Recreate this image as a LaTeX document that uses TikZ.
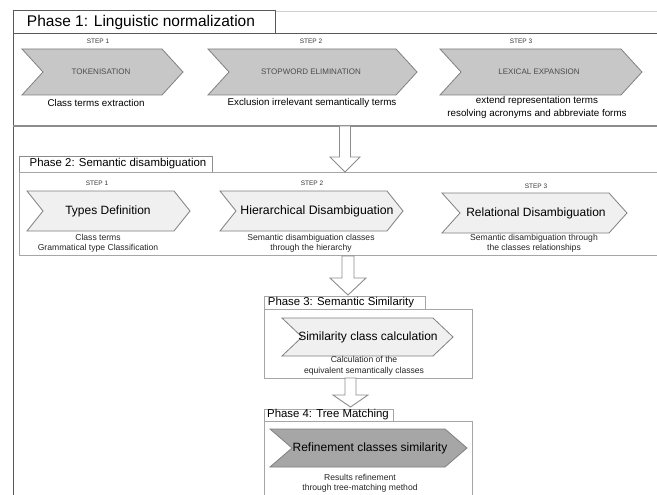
\documentclass[tikz,border=0pt]{standalone}
\usepackage{fontspec}
\setmainfont{Liberation Sans}
\definecolor{frameDark}{gray}{0.35}
\definecolor{frameMid}{gray}{0.55}
\definecolor{frameSoft}{gray}{0.65}
\definecolor{frameLight}{gray}{0.82}
\definecolor{chevGray}{gray}{0.78}
\definecolor{chevPale}{gray}{0.94}
\definecolor{chevDeep}{gray}{0.65}
\definecolor{chevEdge}{gray}{0.5}
% chevron: left, notch depth, right tip, top, bottom, style
\newcommand{\chevronshape}[6]{%
  \path[#6] (#1,#4) -- (#3-#2,#4) -- (#3,{(#4+#5)/2}) -- (#3-#2,#5) -- (#1,#5)
    -- (#1+#2,{(#4+#5)/2}) -- cycle;}
% hollow block arrow: centre x, top, head top, tip, shaft half width, head half width
\newcommand{\blockarrow}[6]{%
  \path[blockarrowstyle] (#1-#5,#2) -- (#1+#5,#2) -- (#1+#5,#3) -- (#1+#6,#3)
    -- (#1,#4) -- (#1-#6,#3) -- (#1-#5,#3) -- cycle;}
\begin{document}
\begin{tikzpicture}[x=1pt,y=-1pt,
  blockarrowstyle/.style={draw=frameMid, fill=white, line width=0.9pt, line join=miter},
  chevOne/.style={draw=chevEdge, fill=chevGray, line width=0.8pt},
  chevTwo/.style={draw=chevEdge, fill=chevPale, line width=0.8pt},
  chevFour/.style={draw=chevEdge, fill=chevDeep, line width=0.8pt},
  stepLabel/.style={font=\fontsize{6.5}{7}\selectfont, text=black!80},
  capsText/.style={font=\fontsize{8}{9}\selectfont, text=black!70},
  bigDesc/.style={font=\fontsize{9.8}{12.5}\selectfont, align=center},
  smallDesc/.style={font=\fontsize{8.6}{10.5}\selectfont, align=center, text=black!85},
  chevLabel/.style={font=\fontsize{12}{14}\selectfont, text=black},
  phaseTitle/.style={font=\fontsize{11.4}{13}\selectfont},
  phaseTitleBig/.style={font=\fontsize{15.5}{17}\selectfont}]
\useasboundingbox (0,0) rectangle (657,495);
\fill[white] (0,0) rectangle (657,495);

% ---------- frames ----------
\draw[frameLight, line width=0.8pt] (275,11) -- (657,11);
\draw[frameDark, line width=0.9pt] (13,10) -- (13,495);
\draw[frameDark, line width=0.8pt] (13,10) rectangle (275,33);
\draw[frameDark, line width=0.8pt] (275,33) -- (657,33);
\draw[frameMid, line width=2pt] (13,126) -- (657,126);

\draw[frameMid, line width=0.8pt] (19,156) rectangle (212,172);
\draw[frameSoft, line width=0.8pt] (212,172) -- (660,172);
\draw[frameSoft, line width=0.8pt] (19,172) rectangle (660,255);

\draw[frameSoft, line width=0.8pt] (264,296) rectangle (425,309);
\draw[frameSoft, line width=0.8pt] (264,309) rectangle (472,378);

\draw[frameSoft, line width=0.8pt] (264,409) rectangle (393,421);
\draw[frameSoft, line width=0.8pt] (264,421) rectangle (472,500);

% ---------- phase titles ----------
\node[phaseTitleBig] (t1) at (141,22) {Phase 1: Linguistic normalization};
\node[phaseTitle] (t2) at (118,164) {Phase 2: Semantic disambiguation};
\node[phaseTitle] (t3) at (341,302.5) {Phase 3: Semantic Similarity};
\node[phaseTitle] (t4) at (328,415) {Phase 4: Tree Matching};

% ---------- phase 1 ----------
\chevronshape{22}{21}{183}{49}{95}{chevOne}
\chevronshape{208}{21}{417}{49}{95}{chevOne}
\chevronshape{440}{21}{642}{49}{95}{chevOne}
\node[stepLabel] (s11) at (98,41) {STEP 1};
\node[stepLabel] (s12) at (311,41) {STEP 2};
\node[stepLabel] (s13) at (521,41) {STEP 3};
\node[capsText] (c11) at (101,72) {TOKENISATION};
\node[capsText] (c12) at (311,72) {STOPWORD ELIMINATION};
\node[capsText] (c13) at (539,72) {LEXICAL EXPANSION};
\node[bigDesc] (d11) at (96,103) {Class terms extraction};
\node[bigDesc] (d12) at (312,103) {Exclusion irrelevant semantically terms};
\node[bigDesc] (d13) at (537,107.5) {extend representation terms\\resolving acronyms and abbreviate forms};

% ---------- phase 2 ----------
\chevronshape{27}{16}{190}{191}{231}{chevTwo}
\chevronshape{220}{16}{403}{191}{231}{chevTwo}
\chevronshape{442}{18}{627}{193}{233}{chevTwo}
\node[stepLabel] (s21) at (97,183) {STEP 1};
\node[stepLabel] (s22) at (312,183) {STEP 2};
\node[stepLabel] (s23) at (536,186) {STEP 3};
\node[chevLabel] (c21) at (108,211) {Types Definition};
\node[chevLabel, font=\fontsize{12.3}{14}\selectfont] (c22) at (317,211) {Hierarchical Disambiguation};
\node[chevLabel] (c23) at (536,213) {Relational Disambiguation};
\node[smallDesc] (d21) at (98,243.5) {Class terms\\Grammatical type Classification};
\node[smallDesc] (d22) at (311,243.5) {Semantic disambiguation classes\\through the hierarchy};
\node[smallDesc] (d23) at (534,243.5) {Semantic disambiguation through\\the classes relationships};

% ---------- phase 3 ----------
\chevronshape{282}{20}{453}{318}{356}{chevTwo}
\node[chevLabel] (c3) at (368,337) {Similarity class calculation};
\node[smallDesc] (d3) at (364,366) {Calculation of the\\equivalent semantically classes};

% ---------- phase 4 ----------
\chevronshape{270}{22}{467}{429}{467}{chevFour}
\node[chevLabel] (c4) at (370,448) {Refinement classes similarity};
\node[smallDesc] (d4) at (360,483.5) {Results refinement\\through tree-matching method};

% ---------- hollow arrows between phases ----------
\blockarrow{345}{126}{157}{172}{5.5}{15}
\blockarrow{348}{256}{278}{295}{6}{18}
\blockarrow{350.5}{378}{395}{407}{5.5}{17.5}
\end{tikzpicture}
\end{document}
